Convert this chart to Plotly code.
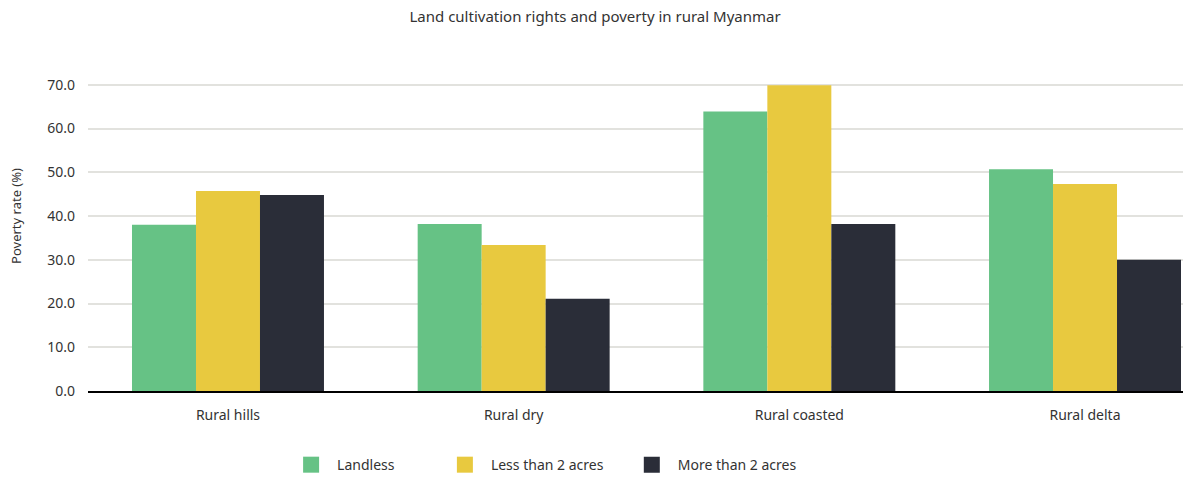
# %% imports

import plotly.graph_objects as go


# %% Data

regions = ['Rural hills', 'Rural dry', 'Rural coasted', 'Rural delta']
landless = [38.0, 38.2, 63.9, 50.7]
less_than_2 = [45.7, 33.4, 69.9, 47.3]
more_than_2 = [44.8, 21.1, 38.2, 30.0]

y_ticks = [0, 10, 20, 30, 40, 50, 60, 70, 80]
y_tick_labels = ['0.0', '10.0', '20.0', '30.0', '40.0', '50.0', '60.0', '70.0', '']

series = [
    ('Landless', landless, '#66c285', 'legend', 0.241),
    ('Less than 2 acres', less_than_2, '#e8c93f', 'legend2', 0.371),
    ('More than 2 acres', more_than_2, '#2a2d38', 'legend3', 0.529),
]

font_family = '"Noto Sans", sans-serif'
text_colour = '#333333'


# %% Figure

fig = go.Figure()

for name, values, colour, _, _ in series:
    fig.add_trace(go.Bar(
        x=regions, y=values, name=name, marker_color=colour,
        marker_line_width=0, showlegend=False))

# Dummy traces so each legend entry gets a big square swatch
for name, values, colour, legend_id, _ in series:
    fig.add_trace(go.Scatter(
        x=[None], y=[None], mode='markers', name=name, legend=legend_id,
        marker=dict(symbol='square', size=19, color=colour)))

fig.update_layout(
    width=1183, height=477,
    margin=dict(l=88, r=0, t=41, b=86, autoexpand=False),
    paper_bgcolor='white', plot_bgcolor='white',
    font=dict(family=font_family, size=13, color=text_colour),
    title=dict(text='Land cultivation rights and poverty in rural Myanmar',
               x=0.503, xref='container', xanchor='center',
               y=0.965, yref='container', yanchor='middle',
               font=dict(size=15, color=text_colour)),
    barmode='group', bargap=0.328, bargroupgap=0,
)

# One legend per series, so the entries can sit where the reference has them
for _, _, _, legend_id, x_pos in series:
    fig.update_layout({legend_id: dict(
        orientation='h', x=x_pos, xref='container', xanchor='left',
        y=0.025, yref='container', yanchor='middle', itemwidth=42,
        font=dict(size=14, color=text_colour), bgcolor='rgba(0,0,0,0)')})

fig.update_xaxes(
    range=[-0.49, 3.343], showgrid=False, ticks='',
    showline=True, linecolor='#000000', linewidth=1.5,
    ticklabelstandoff=10,
    tickfont=dict(size=14, color=text_colour))

fig.update_yaxes(
    range=[0, 80], tickvals=y_ticks, ticktext=y_tick_labels,
    showgrid=True, gridcolor='#e2e2de', gridwidth=1.5,
    zeroline=False, ticks='', ticklabelstandoff=12,
    title=dict(text='Poverty rate (%)', font=dict(size=13, color=text_colour),
               standoff=22),
    tickfont=dict(size=14, color=text_colour))

# The page's body keeps an 8px margin by default, drop it so the chart fills the window
fig.write_html('out.html', config={'displayModeBar': False},
               post_script="document.body.style.margin = '0';")
